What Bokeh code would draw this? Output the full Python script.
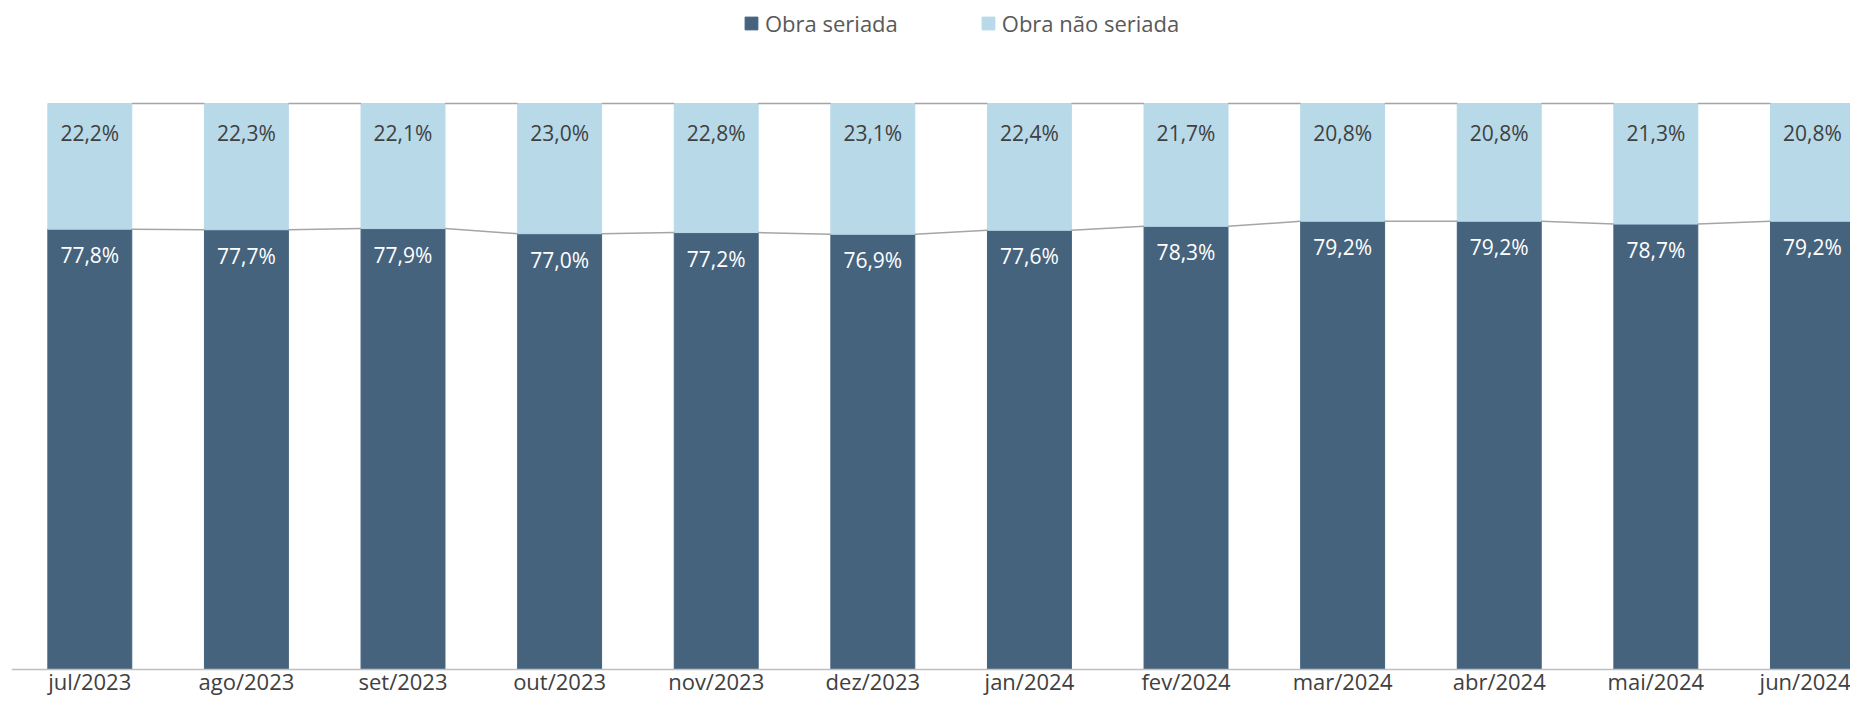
from bokeh.plotting import figure
from bokeh.models import ColumnDataSource, Range1d, FixedTicker, Legend, LegendItem
from bokeh.core.properties import value
from bokeh.embed import file_html
from bokeh.resources import INLINE

months = ["jul/2023", "ago/2023", "set/2023", "out/2023", "nov/2023", "dez/2023",
          "jan/2024", "fev/2024", "mar/2024", "abr/2024", "mai/2024", "jun/2024"]
seriada = [77.8, 77.7, 77.9, 77.0, 77.2, 76.9, 77.6, 78.3, 79.2, 79.2, 78.7, 79.2]
nao_seriada = [22.2, 22.3, 22.1, 23.0, 22.8, 23.1, 22.4, 21.7, 20.8, 20.8, 21.3, 20.8]

DARK = "#46637E"
LIGHT = "#B8D9E8"
FONT = "Open Sans"
BW = 0.536

def fmt(v):
    return f"{v:.1f}".replace(".", ",") + "%"

n = len(months)
xs = list(range(n))
tops = [a + b for a, b in zip(seriada, nao_seriada)]

src = ColumnDataSource(dict(
    x=xs, s=seriada, t=tops,
    ls=[fmt(v) for v in seriada], ln=[fmt(v) for v in nao_seriada],
))

p = figure(width=1850, height=697, output_backend="svg", toolbar_location=None,
           x_range=Range1d(-0.5, 11.243), y_range=Range1d(-4.95, 118.2),
           min_border_left=11, min_border_right=0, min_border_top=0, min_border_bottom=0)
p.outline_line_color = None
p.grid.visible = False
p.yaxis.visible = False

r1 = p.vbar(x="x", bottom=0, top="s", width=BW, color=DARK, source=src)
r2 = p.vbar(x="x", bottom="s", top="t", width=BW, color=LIGHT, source=src)

# series lines between bars
x0 = [i + BW / 2 for i in xs[:-1]]
x1 = [i + 1 - BW / 2 for i in xs[:-1]]
p.segment(x0=x0, y0=seriada[:-1], x1=x1, y1=seriada[1:], line_color="#A5A5A5", line_width=1.5)
p.segment(x0=x0, y0=tops[:-1], x1=x1, y1=tops[1:], line_color="#A5A5A5", line_width=1.5)

p.text(x="x", y="s", text="ls", source=src, text_align="center", text_baseline="middle",
       y_offset=26, text_color="white", text_font=value(FONT), text_font_size="21px")
p.text(x="x", y="t", text="ln", source=src, text_align="center", text_baseline="middle",
       y_offset=29, text_color="#404040", text_font=value(FONT), text_font_size="21px")

ax = p.xaxis[0]
ax.fixed_location = 0
ax.ticker = FixedTicker(ticks=xs)
ax.major_label_overrides = {i: m for i, m in zip(xs, months)}
ax.major_tick_line_color = None
ax.major_tick_out = 0
ax.major_tick_in = 0
ax.minor_tick_line_color = None
ax.minor_tick_out = 0
ax.axis_line_color = "#BFBFBF"
ax.axis_line_width = 1.5
ax.major_label_text_font = FONT
ax.major_label_text_font_size = "22px"
ax.major_label_text_color = "#404040"
ax.major_label_standoff = -3

legend = Legend(items=[LegendItem(label="Obra seriada", renderers=[r1]),
                       LegendItem(label="Obra não seriada", renderers=[r2])],
                orientation="horizontal", location=(722, 649),
                glyph_width=16, glyph_height=16, label_standoff=6, spacing=82,
                label_text_font=FONT, label_text_font_size="22px", label_text_color="#595959",
                border_line_alpha=0, background_fill_alpha=0, margin=0, padding=10)
p.add_layout(legend)

open("out.html", "w").write(file_html(p, INLINE))
